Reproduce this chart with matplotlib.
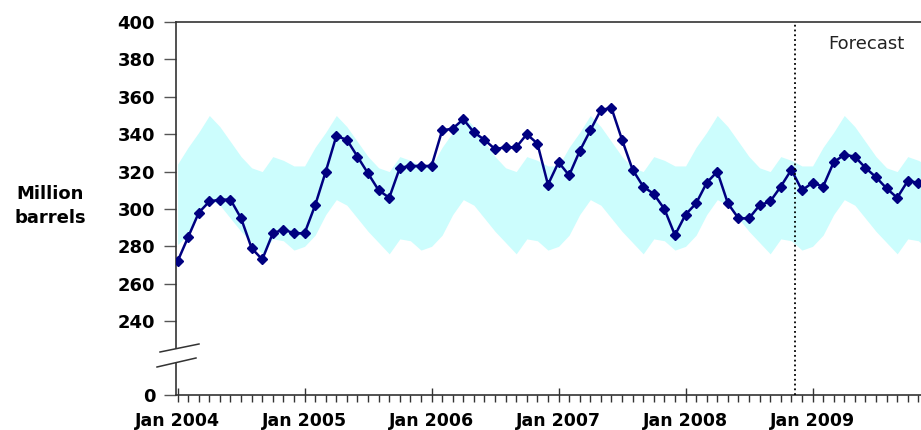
import numpy as np
import matplotlib.pyplot as plt
from matplotlib.lines import Line2D
from matplotlib.patches import Polygon

# monthly crude oil stocks, Jan 2004 .. Dec 2009 (million barrels)
stocks_2004 = [272, 285, 298, 304, 305, 305, 295, 279, 273, 287, 289, 287]
stocks_2005 = [287, 302, 320, 339, 337, 328, 319, 310, 306, 322, 323, 323]
stocks_2006 = [323, 342, 343, 348, 341, 337, 332, 333, 333, 340, 335, 313]
stocks_2007 = [325, 318, 331, 342, 353, 354, 337, 321, 312, 308, 300, 286]
stocks_2008 = [297, 303, 314, 320, 303, 295, 295, 302, 304, 312, 321, 310]
stocks_2009 = [314, 312, 325, 329, 328, 322, 317, 311, 306, 315, 314, 313]

# average range band (same shape each year)
band_hi = [324, 333, 341, 350, 344, 336, 328, 322, 320, 328, 326, 323,
           323, 333, 341, 350, 344, 336, 328, 322, 320, 328, 326, 323,
           323, 333, 341, 350, 344, 336, 328, 322, 320, 328, 326, 323,
           323, 333, 341, 350, 344, 336, 328, 322, 320, 328, 326, 323,
           323, 333, 341, 350, 344, 336, 328, 322, 320, 328, 326, 323,
           323, 333, 341, 350, 344, 336, 328, 322, 320, 328, 326, 323]
band_lo = [281, 286, 297, 305, 302, 295, 288, 282, 276, 284, 283, 278,
           280, 286, 297, 305, 302, 295, 288, 282, 276, 284, 283, 278,
           280, 286, 297, 305, 302, 295, 288, 282, 276, 284, 283, 278,
           280, 286, 297, 305, 302, 295, 288, 282, 276, 284, 283, 278,
           280, 286, 297, 305, 302, 295, 288, 282, 276, 284, 283, 278,
           280, 286, 297, 305, 302, 295, 288, 282, 276, 284, 283, 278]

year_labels = ["Jan 2004", "Jan 2005", "Jan 2006", "Jan 2007", "Jan 2008", "Jan 2009"]
y_ticks = [240, 260, 280, 300, 320, 340, 360, 380, 400]
forecast_start = 58.3

stocks = stocks_2004 + stocks_2005 + stocks_2006 + stocks_2007 + stocks_2008 + stocks_2009
months = np.arange(len(stocks))

W, H = 921, 430
fig = plt.figure(figsize=(W / 100, H / 100), dpi=100)
ax = fig.add_axes([176 / W, 35 / H, 745 / W, 373 / H])

ax.fill_between(np.arange(len(band_hi)), band_lo, band_hi, color='#ccfdfd', lw=0, zorder=1)
ax.plot(months, stocks, color='#000080', lw=1.8, marker='D', markersize=5, zorder=3)
ax.axvline(forecast_start, color='black', ls=':', lw=1.3, zorder=4)
ax.text(0.875, 0.94, "Forecast", transform=ax.transAxes, fontsize=13,
        color='#222222', ha='left', va='center')

y_bottom = 200.5

ax.set_xticks(np.arange(0, 72, 12))
ax.set_xticklabels(year_labels, fontsize=12.5, fontweight='bold')
ax.set_xticks(months, minor=True)
ax.set_yticks([y_bottom] + y_ticks)
ax.set_yticklabels(["0"] + [str(v) for v in y_ticks], fontsize=13, fontweight='bold')

# limits after the ticks, so set_xticks does not widen the view
ax.set_xlim(-0.15, 70.25)
ax.set_ylim(y_bottom, 400)

ax.tick_params(axis='x', which='major', direction='inout', length=10, width=1, pad=7, color='#333333')
ax.tick_params(axis='x', which='minor', direction='out', length=5, width=1, color='#333333')
ax.tick_params(axis='y', which='major', direction='out', length=9, width=1, pad=6, color='#555555')

for side in ['left', 'bottom', 'top']:
    ax.spines[side].set_color('#333333')
    ax.spines[side].set_linewidth(1.2)
ax.spines['right'].set_visible(False)

fig.text(50 / W, 1 - 206 / H, "Million\nbarrels", fontsize=13, fontweight='bold',
         ha='center', va='center', linespacing=1.4)

# axis break marks
def px(x, y):
    return (x / W, 1 - y / H)

gap = Polygon([px(160, 352), px(199, 344), px(196, 358), px(157, 367)],
              closed=True, transform=fig.transFigure, facecolor='white',
              edgecolor='none', zorder=10)
fig.patches.append(gap)
for (x0, y0), (x1, y1) in [((160, 352), (199, 344)), ((157, 367), (196, 358))]:
    a, b = px(x0, y0), px(x1, y1)
    fig.lines.append(Line2D([a[0], b[0]], [a[1], b[1]], transform=fig.transFigure,
                            color='#333333', lw=1.1, zorder=11))

fig.savefig("out.png", dpi=100, facecolor='white')
